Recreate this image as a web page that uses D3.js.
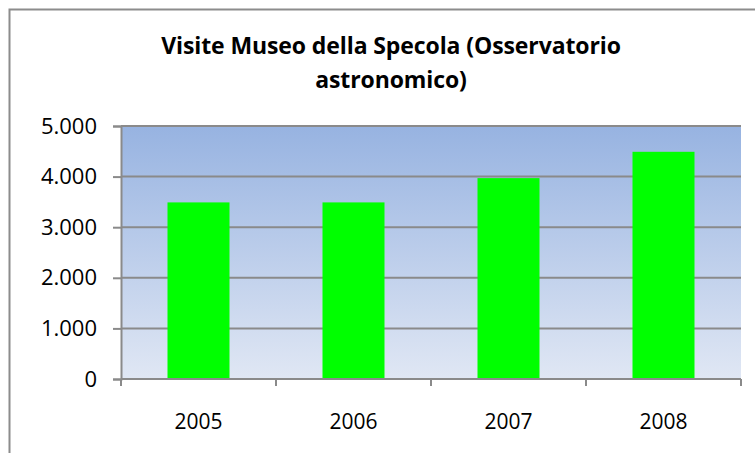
<!DOCTYPE html>
<html>
<head>
<meta charset="utf-8">
<script src="https://cdn.jsdelivr.net/npm/d3@7"></script>
<style>
  body { margin: 0; background: #fff; }
  svg { display: block; }
  .tick text { font-family: "Open Sans", "DejaVu Sans", sans-serif; }
</style>
</head>
<body>
<div id="chart"></div>
<script>
// dati
var anni = ["2005", "2006", "2007", "2008"];
var visite = [3490, 3490, 3970, 4490];
var tickValori = [0, 1000, 2000, 3000, 4000, 5000];
var titolo = ["Visite Museo della Specola (Osservatorio", "astronomico)"];

var width = 755, height = 453;
var m = { left: 121, right: 14, top: 126, bottom: 74 };

var svg = d3.select("#chart").append("svg")
  .attr("width", width).attr("height", height);

// cornice esterna (tagliata a destra e in basso)
svg.append("rect")
  .attr("x", 9.5).attr("y", 9.5)
  .attr("width", 900).attr("height", 600)
  .attr("fill", "none").attr("stroke", "#8c8c8c").attr("stroke-width", 2);

var defs = svg.append("defs");
var grad = defs.append("linearGradient").attr("id", "sfondo")
  .attr("x1", 0).attr("y1", 0).attr("x2", 0).attr("y2", 1);
grad.append("stop").attr("offset", "0%").attr("stop-color", "#97b3e1");
grad.append("stop").attr("offset", "100%").attr("stop-color", "#e0e7f4");

var x = d3.scaleBand().domain(anni)
  .range([m.left, width - m.right])
  .paddingInner(0.6).paddingOuter(0.3);

var y = d3.scaleLinear().domain([0, 5000])
  .range([height - m.bottom, m.top]);

var plotW = width - m.right - m.left;

svg.append("rect")
  .attr("x", m.left).attr("y", y(5000))
  .attr("width", plotW).attr("height", y(0) - y(5000))
  .attr("fill", "url(#sfondo)");

// griglia
svg.append("g").selectAll("line")
  .data(tickValori.filter(d => d > 0))
  .enter().append("line")
  .attr("x1", m.left).attr("x2", width - m.right)
  .attr("y1", d => y(d)).attr("y2", d => y(d))
  .attr("stroke", "#8a8a8a").attr("stroke-width", 2);

// barre
svg.append("g").selectAll("rect")
  .data(anni)
  .enter().append("rect")
  .attr("x", d => x(d))
  .attr("width", x.bandwidth())
  .attr("y", (d, i) => y(visite[i]))
  .attr("height", (d, i) => y(0) - y(visite[i]))
  .attr("fill", "#00ff00");

// asse y
var fmt = d3.formatLocale({ decimal: ",", thousands: ".", grouping: [3], currency: ["", "€"] }).format(",");
var yAxis = svg.append("g")
  .attr("transform", "translate(" + m.left + ",0)")
  .call(d3.axisLeft(y).tickValues(tickValori).tickFormat(fmt).tickSize(8).tickPadding(16));
yAxis.select(".domain").attr("stroke", "#8a8a8a").attr("stroke-width", 2);
yAxis.selectAll(".tick line").attr("stroke", "#8a8a8a").attr("stroke-width", 2);
yAxis.selectAll(".tick text").attr("font-size", 22).attr("fill", "#000");

// asse x con tacche tra le categorie
var bordi = d3.range(anni.length + 1).map(i => m.left + i * plotW / anni.length);
var xg = svg.append("g");
xg.append("line")
  .attr("x1", m.left).attr("x2", width - m.right)
  .attr("y1", y(0)).attr("y2", y(0))
  .attr("stroke", "#8a8a8a").attr("stroke-width", 2);
xg.selectAll("line.tacca").data(bordi)
  .enter().append("line").attr("class", "tacca")
  .attr("x1", d => d).attr("x2", d => d)
  .attr("y1", y(0)).attr("y2", y(0) + 7)
  .attr("stroke", "#8a8a8a").attr("stroke-width", 2);
xg.selectAll("text").data(anni)
  .enter().append("text")
  .attr("x", d => x(d) + x.bandwidth() / 2)
  .attr("y", y(0) + 50)
  .attr("text-anchor", "middle")
  .attr("font-family", "\"Open Sans\", \"DejaVu Sans\", sans-serif")
  .attr("font-size", 21)
  .text(d => d);

// titolo
svg.append("g").selectAll("text")
  .data(titolo)
  .enter().append("text")
  .attr("x", 391)
  .attr("y", (d, i) => 54 + i * 34)
  .attr("text-anchor", "middle")
  .attr("font-family", "\"Open Sans\", sans-serif")
  .attr("font-weight", "bold")
  .attr("font-size", 23)
  .attr("letter-spacing", -0.1)
  .text(d => d);
</script>
</body>
</html>
